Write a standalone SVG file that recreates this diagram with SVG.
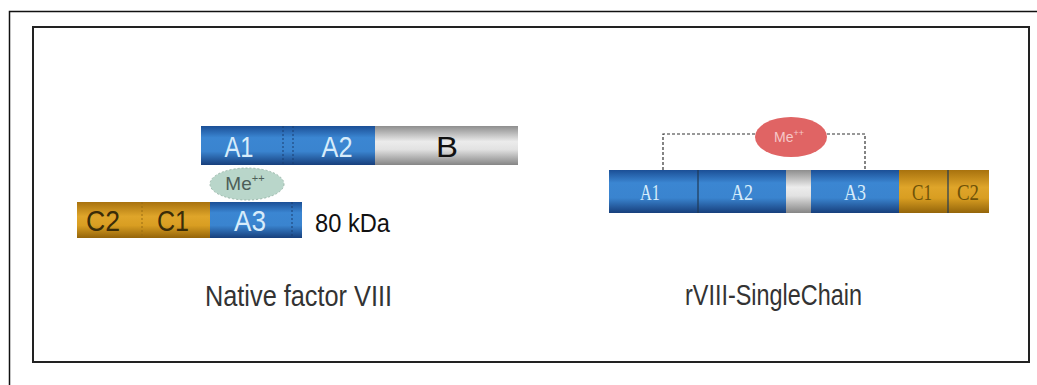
<svg xmlns="http://www.w3.org/2000/svg" width="1037" height="385" viewBox="0 0 1037 385">
  <defs>
    <linearGradient id="blue" x1="0" y1="0" x2="0" y2="1">
      <stop offset="0" stop-color="#1b4f96"/>
      <stop offset="0.3" stop-color="#3b86d2"/>
      <stop offset="0.65" stop-color="#3a84cf"/>
      <stop offset="1" stop-color="#173f7c"/>
    </linearGradient>
    <linearGradient id="gray" x1="0" y1="0" x2="0" y2="1">
      <stop offset="0" stop-color="#8e8e8e"/>
      <stop offset="0.4" stop-color="#ececec"/>
      <stop offset="0.6" stop-color="#e2e2e2"/>
      <stop offset="1" stop-color="#858585"/>
    </linearGradient>
    <linearGradient id="gold" x1="0" y1="0" x2="0" y2="1">
      <stop offset="0" stop-color="#a8720e"/>
      <stop offset="0.4" stop-color="#dfa52a"/>
      <stop offset="0.65" stop-color="#d99e22"/>
      <stop offset="1" stop-color="#94650a"/>
    </linearGradient>
    <style>
      .frame { fill: none; stroke: #222; stroke-width: 2; }
      .div { stroke: #1a3f70; stroke-width: 1; stroke-dasharray: 2 2; }
      .sdiv { stroke: #203a55; stroke-width: 1.2; }
      .lab { font-family: "Liberation Sans", Arial, sans-serif; font-size: 29px; text-anchor: middle; }
      .lt { fill: #d6ecfb; }
      .dk { fill: #3a2c08; }
      .ser { font-family: "Liberation Serif", "Times New Roman", serif; font-size: 24px; text-anchor: middle; }
      .title { font-family: "Liberation Sans", Arial, sans-serif; font-size: 30px; fill: #333; }
      .conn { fill: none; stroke: #333; stroke-width: 1.2; stroke-dasharray: 3 2; }
    </style>
  </defs>

  <rect width="1037" height="385" fill="#fff"/>
  <!-- outer frame (cut off at right and bottom) -->
  <path d="M9.5 385 V11.5 H1037" fill="none" stroke="#111" stroke-width="1.5"/>
  <!-- inner frame -->
  <rect class="frame" x="33" y="27" width="996" height="335"/>

  <g id="connectors">
    <path class="conn" d="M663 170 V134 H756"/>
    <path class="conn" d="M827 134 H865 V170"/>
  </g>

  <g id="native-heavy-chain">
    <rect x="201" y="126" width="174" height="39" fill="url(#blue)"/>
    <rect x="375" y="126" width="143" height="39" fill="url(#gray)"/>
    <line class="div" x1="283" y1="126" x2="283" y2="165"/>
    <line class="div" x1="293" y1="126" x2="293" y2="165"/>
    <text class="lab lt" x="239" y="157" textLength="29" lengthAdjust="spacingAndGlyphs">A1</text>
    <text class="lab lt" x="337" y="157" textLength="31" lengthAdjust="spacingAndGlyphs">A2</text>
    <text class="lab" x="447" y="157" fill="#111" textLength="22" lengthAdjust="spacingAndGlyphs">B</text>
  </g>

  <g id="native-light-chain">
    <rect x="77" y="202" width="133" height="36" fill="url(#gold)"/>
    <rect x="210" y="202" width="92" height="36" fill="url(#blue)"/>
    <line x1="142" y1="202" x2="142" y2="238" stroke="#9a6c12" stroke-width="1" stroke-dasharray="2 2"/>
    <line class="div" x1="292" y1="202" x2="292" y2="238"/>
    <text class="lab dk" x="103" y="231" textLength="34" lengthAdjust="spacingAndGlyphs">C2</text>
    <text class="lab dk" x="173" y="231" textLength="32" lengthAdjust="spacingAndGlyphs">C1</text>
    <text class="lab lt" x="250" y="231" textLength="32" lengthAdjust="spacingAndGlyphs">A3</text>
    <text x="315" y="232" font-family="Liberation Sans, Arial, sans-serif" font-size="26" fill="#111" textLength="75" lengthAdjust="spacingAndGlyphs">80 kDa</text>
  </g>

  <g id="native-metal">
    <ellipse cx="247" cy="184" rx="37" ry="16" fill="#b9d6ca" stroke="#9ab8aa" stroke-width="1" stroke-dasharray="2 2"/>
    <text x="245" y="190" font-family="Liberation Sans, Arial, sans-serif" font-size="19" fill="#4d5e58" text-anchor="middle">Me<tspan font-size="11" dy="-8">++</tspan></text>
  </g>

  <g id="single-chain">
    <rect x="609" y="170" width="89" height="43" fill="url(#blue)"/>
    <rect x="698" y="170" width="88" height="43" fill="url(#blue)"/>
    <rect x="786" y="170" width="25" height="43" fill="url(#gray)"/>
    <rect x="811" y="170" width="88" height="43" fill="url(#blue)"/>
    <rect x="899" y="170" width="49" height="43" fill="url(#gold)"/>
    <rect x="948" y="170" width="41" height="43" fill="url(#gold)"/>
    <line class="sdiv" x1="698" y1="170" x2="698" y2="213"/>
    <line class="sdiv" x1="948" y1="170" x2="948" y2="213" stroke="#6a5020"/>
    <text class="ser" x="650" y="200" fill="#d6ecfb" textLength="20" lengthAdjust="spacingAndGlyphs">A1</text>
    <text class="ser" x="742" y="200" fill="#d6ecfb" textLength="22" lengthAdjust="spacingAndGlyphs">A2</text>
    <text class="ser" x="855" y="200" fill="#d6ecfb" textLength="22" lengthAdjust="spacingAndGlyphs">A3</text>
    <text class="ser" x="922" y="200" fill="#6e5208" textLength="20" lengthAdjust="spacingAndGlyphs">C1</text>
    <text class="ser" x="968" y="200" fill="#6e5208" textLength="22" lengthAdjust="spacingAndGlyphs">C2</text>
  </g>

  <g id="single-metal">
    <ellipse cx="791" cy="137" rx="36" ry="20" fill="#e06464"/>
    <text x="789" y="142" font-family="Liberation Sans, Arial, sans-serif" font-size="14" fill="#f6c8c8" text-anchor="middle">Me<tspan font-size="9" dy="-6">++</tspan></text>
  </g>

  <g id="titles">
    <text class="title" x="205" y="306" textLength="187" lengthAdjust="spacingAndGlyphs">Native factor VIII</text>
    <text class="title" x="685" y="305" textLength="177" lengthAdjust="spacingAndGlyphs">rVIII-SingleChain</text>
  </g>
</svg>
